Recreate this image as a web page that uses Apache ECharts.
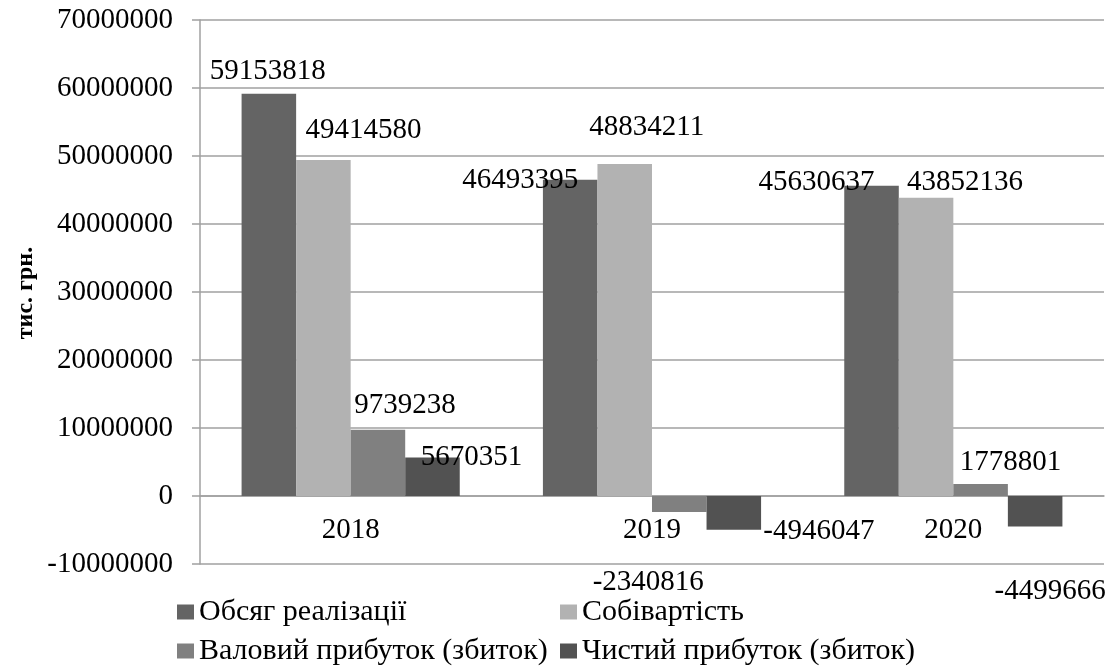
<!DOCTYPE html>
<html>
<head>
<meta charset="utf-8">
<script src="https://cdn.jsdelivr.net/npm/echarts@6/dist/echarts.min.js"></script>
<style>
  html, body { margin: 0; padding: 0; background: #fff; }
  #chart { width: 1114px; height: 667px; }
</style>
</head>
<body>
<div id="chart"></div>
<script>
// Фінансові показники, тис. грн.
const categories = ['2018', '2019', '2020'];
const salesVolume = [59153818, 46493395, 45630637];
const costPrice = [49414580, 48834211, 43852136];
const grossProfit = [9739238, -2340816, 1778801];
const netProfit = [5670351, -4946047, -4499666];
const seriesNames = ['Обсяг реалізації', 'Собівартість', 'Валовий прибуток (збиток)', 'Чистий прибуток (збиток)'];
const axisMin = -10000000;
const axisMax = 70000000;
const axisStep = 10000000;

// label nudges per bar, in pixels, so the numbers don't collide
const labelNudges = [
  [[-1, -3], [-50, 20], [-55, 16]],
  [[40, -10], [22, -17], [39, 4]],
  [[27, -5], [-31, 51], [30, -2]],
  [[39, 19], [85, -18], [15, 45]]
];
const barColors = ['#646464', '#b2b2b2', '#808080', '#525252'];
const serif = 'Liberation Serif';
const gridGray = '#a0a0a0';

const gridTop = 20, gridBottom = 103, chartHeight = 667;
const plotHeight = chartHeight - gridTop - gridBottom;
// lift the category axis from the bottom edge up to the zero line
const zeroLift = plotHeight * (0 - axisMin) / (axisMax - axisMin);

const seriesValues = [salesVolume, costPrice, grossProfit, netProfit];

const chart = echarts.init(document.getElementById('chart'));

const series = seriesValues.map((vals, si) => ({
  name: seriesNames[si],
  type: 'bar',
  barGap: '0%',
  barCategoryGap: '27.6%',
  itemStyle: { color: barColors[si] },
  data: vals.map((v, ci) => ({
    value: v,
    label: {
      show: true,
      position: v >= 0 ? 'top' : 'bottom',
      distance: 5,
      offset: labelNudges[si][ci],
      color: '#000',
      fontFamily: serif,
      fontSize: 29
    }
  }))
}));

const legendTops = [597, 597, 636, 636];
const legendLefts = [177, 560, 177, 560];
const legends = seriesNames.map((n, i) => ({
  data: [n],
  left: legendLefts[i],
  top: legendTops[i],
  padding: 0,
  itemWidth: 17,
  itemHeight: 15,
  icon: 'rect',
  selectedMode: false,
  textStyle: { fontFamily: serif, fontSize: 30, color: '#000' }
}));

chart.setOption({
  animation: false,
  backgroundColor: '#fff',
  grid: { left: 200, right: 10, top: gridTop, bottom: gridBottom },
  legend: legends,
  xAxis: {
    type: 'category',
    data: categories,
    position: 'bottom',
    offset: -zeroLift,
    axisLine: { onZero: false, lineStyle: { color: gridGray, width: 1.5 } },
    axisTick: { show: false },
    axisLabel: { margin: 20, color: '#000', fontFamily: serif, fontSize: 29, hideOverlap: false }
  },
  yAxis: {
    type: 'value',
    min: axisMin,
    max: axisMax,
    interval: axisStep,
    axisLine: { show: true, lineStyle: { color: gridGray, width: 1.5 } },
    axisTick: { show: true, length: 8, lineStyle: { color: gridGray, width: 1.5 } },
    axisLabel: {
      margin: 27, color: '#000', fontFamily: serif, fontSize: 29,
      formatter: v => String(v)
    },
    splitLine: { show: true, lineStyle: { color: gridGray, width: 1.5 } }
  },
  graphic: [{
    type: 'text',
    x: 26,
    y: 293,
    rotation: Math.PI / 2,
    style: {
      text: 'тис. грн.',
      fill: '#000',
      font: 'bold 24px "Liberation Serif"',
      align: 'center',
      verticalAlign: 'middle'
    }
  }],
  series: series
});
</script>
</body>
</html>
